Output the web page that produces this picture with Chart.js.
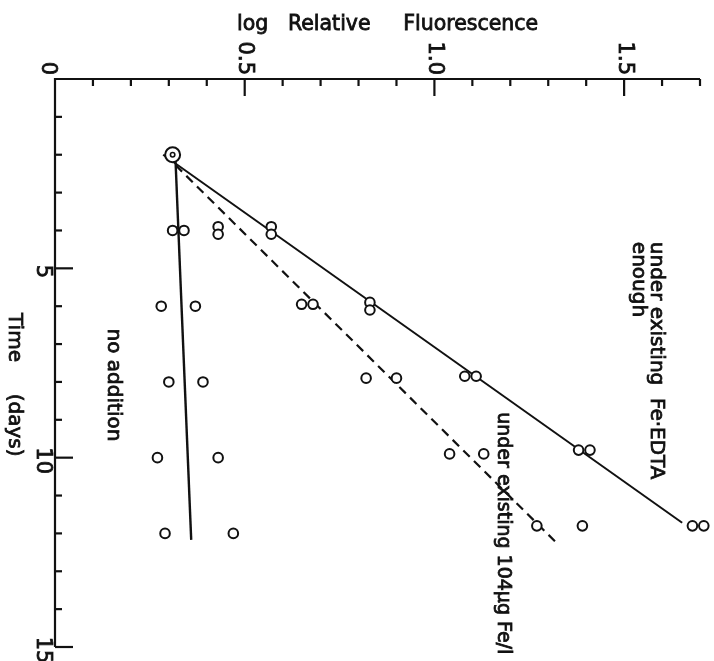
<!DOCTYPE html>
<html>
<head>
<meta charset="utf-8">
<script src="https://cdn.jsdelivr.net/npm/chart.js@4.4.1/dist/chart.umd.min.js"></script>
<style>
  body { margin: 0; background: #fff; }
  #caixa { width: 714px; height: 661px; position: relative; }
</style>
</head>
<body>
<div id="caixa"><canvas id="grafico"></canvas></div>
<script>
// Dados (x = log fluorescência relativa, y = tempo em dias)
const diaInicial = [2];
const logInicial = [0.31];

const diasSemAdicao = [4, 4, 6, 6, 8, 8, 10, 10, 12, 12];
const logSemAdicao = [0.31, 0.34, 0.28, 0.37, 0.30, 0.39, 0.27, 0.43, 0.29, 0.47];

const dias104 = [3.9, 4.1, 5.95, 5.95, 7.9, 7.9, 9.9, 9.9, 11.8, 11.8];
const log104 = [0.43, 0.43, 0.65, 0.68, 0.82, 0.90, 1.04, 1.13, 1.27, 1.39];

const diasEdta = [3.9, 4.1, 5.9, 6.1, 7.85, 7.85, 9.8, 9.8, 11.8, 11.8];
const logEdta = [0.57, 0.57, 0.83, 0.83, 1.08, 1.11, 1.38, 1.41, 1.68, 1.71];

// Retas ajustadas (início e fim)
const diasRetaSemAdicao = [2, 12.17];
const logRetaSemAdicao = [0.317, 0.359];
const diasReta104 = [2, 12.23];
const logReta104 = [0.29, 1.32];
const diasRetaEdta = [2, 11.72];
const logRetaEdta = [0.285, 1.653];

// Eixos
const ticksX = [0, 0.5, 1.0, 1.5];
const rotulosX = ["0", "0.5", "1.0", "1.5"];
const ticksY = [5, 10, 15];
const rotulosY = ["5", "10", "15"];

function pontos(xs, ys) {
    return xs.map((v, i) => ({ x: v, y: ys[i] }));
}

// texto com traço um pouco mais grosso, como no original
function escrever(ctx, texto, x, y) {
    ctx.fillText(texto, x, y);
    ctx.strokeText(texto, x, y);
}

function textoVertical(ctx, texto, x, y, align) {
    ctx.save();
    ctx.translate(x, y);
    ctx.rotate(Math.PI / 2);
    ctx.textAlign = align;
    ctx.textBaseline = "middle";
    escrever(ctx, texto, 0, 0);
    ctx.restore();
}

// Plugin que desenha eixos, marcas e textos
const eixosPlugin = {
    id: "eixos",
    afterDraw(chart) {
        const { ctx, chartArea } = chart;
        const sx = chart.scales.x;
        const sy = chart.scales.y;
        ctx.save();
        ctx.strokeStyle = "#111";
        ctx.fillStyle = "#111";
        ctx.lineWidth = 2.2;

        // linhas dos eixos
        ctx.beginPath();
        ctx.moveTo(chartArea.left, chartArea.bottom);
        ctx.lineTo(chartArea.left, chartArea.top);
        ctx.lineTo(chartArea.right, chartArea.top);
        ctx.stroke();

        // marcas do eixo x (para dentro)
        for (let i = 1; i <= 17; i++) {
            const px = sx.getPixelForValue(i / 10);
            const len = i % 5 === 0 ? 17 : 7;
            ctx.beginPath();
            ctx.moveTo(px, chartArea.top);
            ctx.lineTo(px, chartArea.top + len);
            ctx.stroke();
        }
        // marcas do eixo y
        for (let d = 1; d <= 15; d++) {
            const py = sy.getPixelForValue(d);
            const len = d % 5 === 0 ? 18 : 7;
            ctx.beginPath();
            ctx.moveTo(chartArea.left, py);
            ctx.lineTo(chartArea.left + len, py);
            ctx.stroke();
        }

        ctx.lineWidth = 0.8;
        ctx.font = "21px 'DejaVu Sans'";
        ticksX.forEach((v, i) => {
            let px = sx.getPixelForValue(v);
            if (v === 0) px -= 8;
            textoVertical(ctx, rotulosX[i], px, chartArea.top - 4, "right");
        });
        ticksY.forEach((v, i) => {
            const py = sy.getPixelForValue(v) + 3;
            textoVertical(ctx, rotulosY[i], chartArea.left - 13, py, "center");
        });

        // títulos
        ctx.font = "20.5px 'DejaVu Sans'";
        ctx.textAlign = "left";
        ctx.textBaseline = "middle";
        escrever(ctx, "log   Relative     Fluorescence", sx.getPixelForValue(0.48), chartArea.top - 54);

        ctx.font = "20px 'DejaVu Sans'";
        textoVertical(ctx, "Time     (days)", chartArea.left - 41, sy.getPixelForValue(6.18), "left");

        // anotações
        textoVertical(ctx, "no addition", sx.getPixelForValue(0.153), sy.getPixelForValue(8.08), "center");
        textoVertical(ctx, "under existing  Fe·EDTA", sx.getPixelForValue(1.585), sy.getPixelForValue(4.3), "left");
        textoVertical(ctx, "enough", sx.getPixelForValue(1.537), sy.getPixelForValue(4.3), "left");
        ctx.font = "19px 'DejaVu Sans'";
        textoVertical(ctx, "under existing 104μg Fe/l", sx.getPixelForValue(1.181), sy.getPixelForValue(8.8), "left");

        ctx.restore();
    }
};

const estiloPonto = {
    showLine: false,
    pointStyle: "circle",
    pointRadius: 4.8,
    pointBorderWidth: 2,
    pointBackgroundColor: "#fff",
    pointBorderColor: "#111",
    clip: false,
    order: 1
};

const estiloReta = {
    showLine: true,
    pointRadius: 0,
    borderColor: "#111",
    borderWidth: 2,
    clip: false,
    order: 2
};

new Chart(document.getElementById("grafico"), {
    type: "scatter",
    data: {
        datasets: [
            Object.assign({ label: "reta sem adição", data: pontos(logRetaSemAdicao, diasRetaSemAdicao) }, estiloReta, { borderWidth: 2.4 }),
            Object.assign({ label: "reta 104", data: pontos(logReta104, diasReta104), borderDash: [9, 6] }, estiloReta, { borderWidth: 2.2 }),
            Object.assign({ label: "reta EDTA", data: pontos(logRetaEdta, diasRetaEdta) }, estiloReta),
            Object.assign({ label: "sem adição", data: pontos(logSemAdicao, diasSemAdicao) }, estiloPonto),
            Object.assign({ label: "104", data: pontos(log104, dias104) }, estiloPonto),
            Object.assign({ label: "EDTA", data: pontos(logEdta, diasEdta) }, estiloPonto),
            Object.assign({}, estiloPonto, { label: "inicial", data: pontos(logInicial, diaInicial), pointRadius: 7.5, order: 0 }),
            Object.assign({}, estiloPonto, { label: "inicial centro", data: pontos(logInicial, diaInicial), pointRadius: 2.2, pointBorderWidth: 1.6, order: -1 })
        ]
    },
    options: {
        responsive: true,
        maintainAspectRatio: false,
        animation: false,
        layout: { padding: { left: 55, top: 79, right: 14, bottom: 14 } },
        plugins: {
            legend: { display: false },
            tooltip: { enabled: false }
        },
        scales: {
            x: { type: "linear", min: 0, max: 1.7, display: false },
            y: { type: "linear", min: 0, max: 15, reverse: true, display: false }
        }
    },
    plugins: [eixosPlugin]
});
</script>
</body>
</html>
